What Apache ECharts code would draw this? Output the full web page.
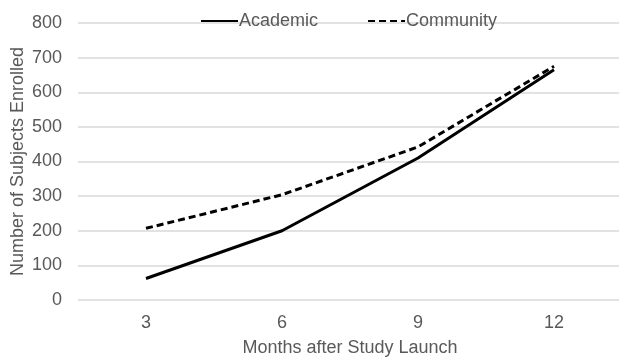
<!DOCTYPE html>
<html>
<head>
<meta charset="utf-8">
<script src="https://cdn.jsdelivr.net/npm/echarts@6/dist/echarts.min.js"></script>
<style>html,body{margin:0;padding:0;background:#fff}#c{width:619px;height:359px}</style>
</head>
<body>
<div id="c"></div>
<script>
const categories = ['3', '6', '9', '12'];
const academic = [62, 200, 410, 665];
const community = [207, 304, 442, 675];
const yTicks = [0, 100, 200, 300, 400, 500, 600, 700, 800];

const chart = echarts.init(document.getElementById('c'), null, {renderer: 'canvas'});
const font = 'Liberation Sans, Arial, sans-serif';
chart.setOption({
  animation: false,
  backgroundColor: '#fff',
  grid: {left: 78, right: -3, top: 23, bottom: 59, containLabel: false, outerBoundsMode: 'none'},
  legend: {
    top: 7, left: 195,
    itemWidth: 37, itemHeight: 14, itemGap: 49,
    itemStyle: {opacity: 0},
    textStyle: {fontFamily: font, fontSize: 18, color: '#595959', padding: [0, 0, 0, -4]},
    data: ['Academic', 'Community']
  },
  xAxis: {
    type: 'category', data: categories, boundaryGap: true,
    name: 'Months after Study Launch', nameLocation: 'middle', nameGap: 39,
    nameTextStyle: {fontFamily: font, fontSize: 18, color: '#595959'},
    axisLine: {show: false}, axisTick: {show: false},
    axisLabel: {fontFamily: font, fontSize: 18, color: '#595959', margin: 14}
  },
  yAxis: {
    type: 'value', min: yTicks[0], max: yTicks[yTicks.length - 1], interval: 100,
    name: 'Number of Subjects Enrolled', nameLocation: 'middle', nameGap: 51,
    nameMoveOverlap: false,
    nameTextStyle: {fontFamily: font, fontSize: 18, color: '#595959'},
    axisLine: {show: false}, axisTick: {show: false},
    axisLabel: {fontFamily: font, fontSize: 18, color: '#595959', margin: 16},
    splitLine: {lineStyle: {color: '#d9d9d9', width: 1.5}}
  },
  series: [
    {name: 'Academic', type: 'line', data: academic, symbol: 'none',
     lineStyle: {color: '#000', width: 3, type: 'solid'}, itemStyle: {color: '#000'}},
    {name: 'Community', type: 'line', data: community, symbol: 'none',
     lineStyle: {color: '#000', width: 3, type: [7, 4]}, itemStyle: {color: '#000'}}
  ]
});
</script>
</body>
</html>
